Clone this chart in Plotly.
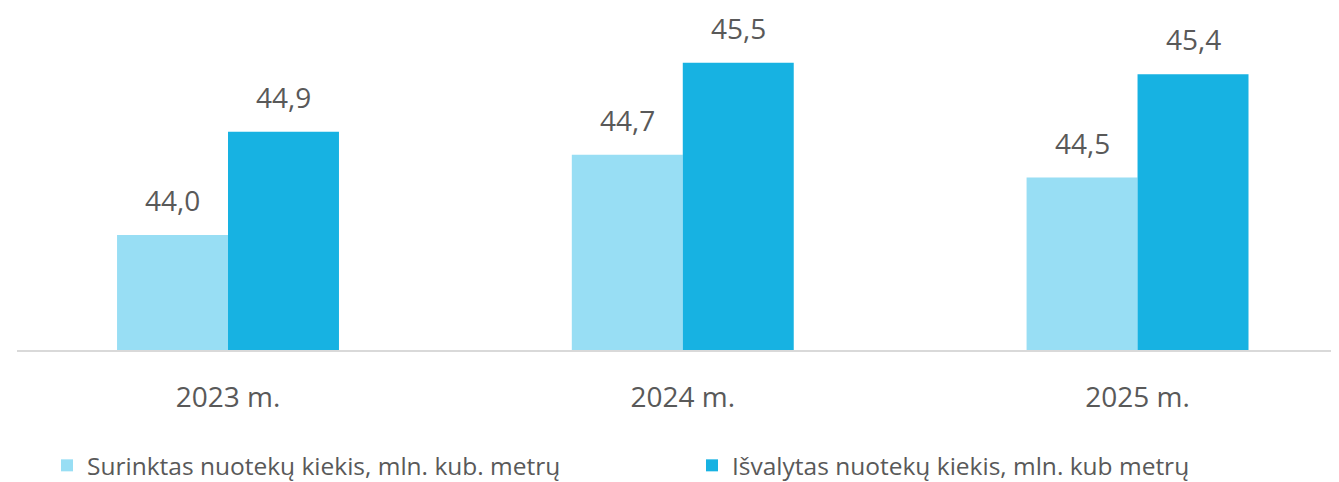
import plotly.graph_objects as go

years = ["2023 m.", "2024 m.", "2025 m."]
collected = [44.0, 44.7, 44.5]
treated = [44.9, 45.5, 45.4]
series_names = ["Surinktas nuotekų kiekis, mln. kub. metrų",
                "Išvalytas nuotekų kiekis, mln. kub metrų"]
colors = ["#98DEF4", "#17B2E2"]

font_family = "Open Sans"
grey = "#595959"

fig = go.Figure()
fig.add_trace(go.Bar(x=years, y=collected, name=series_names[0],
                     marker_color=colors[0], marker_line_width=0))
fig.add_trace(go.Bar(x=years, y=treated, name=series_names[1],
                     marker_color=colors[1], marker_line_width=0))

# value labels above the bars, with decimal comma
half_bar = 0.122
for j, vals in enumerate([collected, treated]):
    shift = -half_bar if j == 0 else half_bar
    for i, v in enumerate(vals):
        fig.add_annotation(x=i + shift, y=v, text=f"{v:.1f}".replace(".", ","),
                           showarrow=False, yanchor="bottom", yshift=14,
                           font=dict(family=font_family, size=28, color=grey))

# page body has an 8px margin, so the figure is a bit smaller than the window
fig.update_layout(
    width=1331, height=474,
    margin=dict(l=9, r=0, t=0, b=132, autoexpand=False),
    paper_bgcolor="white", plot_bgcolor="white",
    barmode="group", bargap=0.512, bargroupgap=0,
    font=dict(family=font_family, color=grey),
    showlegend=True,
    legend=dict(orientation="h", xref="container", x=0.0293, xanchor="left",
                yref="container", y=0.035, yanchor="middle",
                font=dict(family=font_family, size=24.5, color=grey),
                entrywidth=600, entrywidthmode="pixels", traceorder="normal"),
)
fig.update_xaxes(type="category", range=[-0.464, 2.443], showline=True,
                 linecolor="#D9D9D9", linewidth=2, ticks="", showgrid=False,
                 tickfont=dict(family=font_family, size=28, color=grey),
                 ticklabelstandoff=21)
fig.update_yaxes(range=[43, 45.976], visible=False, showgrid=False, zeroline=False)

fig.write_html("out.html")
